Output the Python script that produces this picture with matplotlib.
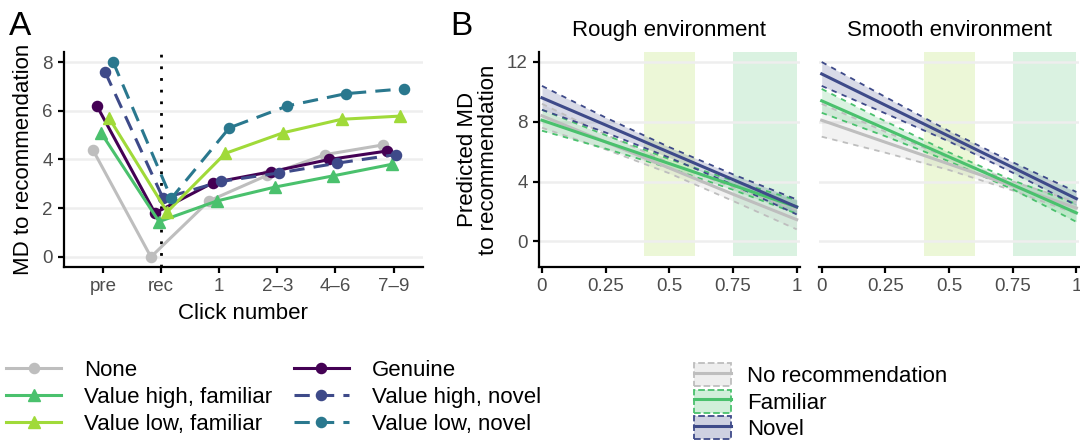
import numpy as np
import matplotlib.pyplot as plt
from matplotlib.lines import Line2D
from matplotlib.patches import Patch

plt.rcParams['font.family'] = ['Liberation Sans', 'DejaVu Sans']

# ---- panel A: observed mean distance per click ----
clicks = ['pre', 'rec', '1', '2–3', '4–6', '7–9']
none_md = [4.4, 0.0, 2.3, 3.35, 4.2, 4.6]
genuine_md = [6.2, 1.8, 3.05, 3.5, 4.0, 4.35]
high_fam_md = [5.1, 1.45, 2.3, 2.87, 3.33, 3.8]
high_nov_md = [7.6, 2.4, 3.1, 3.45, 3.85, 4.2]
low_fam_md = [5.7, 1.85, 4.25, 5.1, 5.65, 5.78]
low_nov_md = [8.0, 2.4, 5.3, 6.2, 6.7, 6.9]

# ---- panel B: model predictions (mean and CI half width) ----
x_pred = [0, 0.25, 0.5, 0.75, 1]
rough_none = [8.4, 6.65, 4.9, 3.15, 1.45]
rough_none_ci = [0.8, 0.5, 0.35, 0.45, 0.65]
rough_fam = [8.1, 6.65, 5.2, 3.75, 2.3]
rough_fam_ci = [0.7, 0.45, 0.3, 0.3, 0.45]
rough_nov = [9.6, 7.78, 5.95, 4.13, 2.3]
rough_nov_ci = [0.8, 0.5, 0.35, 0.35, 0.5]
smooth_none = [8.1, 6.63, 5.17, 3.7, 2.23]
smooth_none_ci = [1.1, 0.7, 0.4, 0.3, 0.4]
smooth_fam = [9.4, 7.53, 5.65, 3.78, 1.9]
smooth_fam_ci = [0.8, 0.5, 0.3, 0.3, 0.6]
smooth_nov = [11.2, 9.11, 7.03, 4.94, 2.85]
smooth_nov_ci = [0.8, 0.55, 0.35, 0.35, 0.45]

C_NONE = '#bebebe'
C_GEN = '#440154'
C_HFAM = '#4ac16d'
C_LFAM = '#a0da39'
C_HNOV = '#3e4a89'
C_LNOV = '#2a788e'
TICK_C = '#4d4d4d'
GRID_C = '#eeeeee'


def style_axis(ax, left=True):
    for s in ['top', 'right']:
        ax.spines[s].set_visible(False)
    ax.spines['bottom'].set_linewidth(1.6)
    ax.spines['left'].set_linewidth(1.6)
    if not left:
        ax.spines['left'].set_visible(False)
    ax.tick_params(axis='both', labelsize=13.5, labelcolor=TICK_C, length=4,
                   width=1.6, color='black', pad=4)
    if not left:
        ax.tick_params(axis='y', left=False, labelleft=False)
    ax.yaxis.grid(True, color=GRID_C, lw=1.8)
    ax.set_axisbelow(True)


fig = plt.figure(figsize=(10.8, 4.43), dpi=100)

# ---------------- Panel A ----------------
axA = fig.add_axes([0.0593, 0.398, 0.332, 0.484])
style_axis(axA)
xpos = np.arange(1, len(clicks) + 1)
series = [
    (none_md, C_NONE, 'o', '-', 'None'),
    (genuine_md, C_GEN, 'o', '-', 'Genuine'),
    (high_fam_md, C_HFAM, '^', '-', 'Value high, familiar'),
    (high_nov_md, C_HNOV, 'o', '--', 'Value high, novel'),
    (low_fam_md, C_LFAM, '^', '-', 'Value low, familiar'),
    (low_nov_md, C_LNOV, 'o', '--', 'Value low, novel'),
]
dodge = 0.07
axA.axvline(2, color='black', ls=(0, (1, 3.2)), lw=2, zorder=1)
handles = {}
for i, (vals, col, mk, ls, lab) in enumerate(series):
    xs = xpos + (i - 2.5) * dodge
    kw = dict(color=col, lw=2.2, marker=mk, markersize=8 if mk == '^' else 7.3, zorder=3)
    if ls == '--':
        line, = axA.plot(xs, vals, dashes=(5, 3), **kw)
    else:
        line, = axA.plot(xs, vals, **kw)
    handles[lab] = line
axA.set_xlim(0.33, 6.5)
axA.set_ylim(-0.4, 8.4)
axA.set_yticks([0, 2, 4, 6, 8])
axA.set_xticks(xpos)
axA.set_xticklabels(clicks)
axA.set_xlabel('Click number', fontsize=16, labelpad=6)
axA.set_ylabel('MD to recommendation', fontsize=16, labelpad=6)
fig.text(0.008, 0.975, 'A', fontsize=24, va='top', ha='left')

order = ['None', 'Value high, familiar', 'Value low, familiar',
         'Genuine', 'Value high, novel', 'Value low, novel']
fig.legend([handles[k] for k in order], order, ncol=2, loc='upper left',
           bbox_to_anchor=(0.006, 0.188), frameon=False, fontsize=16,
           handlelength=2.45, handletextpad=1.05, columnspacing=0.98,
           labelspacing=0.27, borderpad=0, borderaxespad=0)

# ---------------- Panel B ----------------
ylo, yhi = -1.7, 12.65
panels = [
    ('Rough environment', [(rough_none, rough_none_ci, C_NONE),
                           (rough_fam, rough_fam_ci, C_HFAM),
                           (rough_nov, rough_nov_ci, C_HNOV)]),
    ('Smooth environment', [(smooth_none, smooth_none_ci, C_NONE),
                            (smooth_fam, smooth_fam_ci, C_HFAM),
                            (smooth_nov, smooth_nov_ci, C_HNOV)]),
]
lefts = [0.499, 0.758]
for k, (title, lines) in enumerate(panels):
    ax = fig.add_axes([lefts[k], 0.398, 0.2415, 0.484])
    style_axis(ax, left=(k == 0))
    frac = (-1 - ylo) / (yhi - ylo)
    ax.axvspan(0.4, 0.6, ymin=frac, ymax=1, color=C_LFAM, alpha=0.2, lw=0, zorder=0.5)
    ax.axvspan(0.75, 1.0, ymin=frac, ymax=1, color=C_HFAM, alpha=0.2, lw=0, zorder=0.5)
    for mean, ci, col in lines:
        m = np.array(mean)
        h = np.array(ci)
        ax.fill_between(x_pred, m - h, m + h, color=col, alpha=0.2, lw=0, zorder=2)
        ax.plot(x_pred, m - h, color=col, lw=1.3, dashes=(3, 3), zorder=3)
        ax.plot(x_pred, m + h, color=col, lw=1.3, dashes=(3, 3), zorder=3)
        ax.plot(x_pred, m, color=col, lw=2.2, zorder=4)
    ax.set_xlim(-0.012, 1.012)
    ax.set_ylim(ylo, yhi)
    ax.set_yticks([0, 4, 8, 12])
    ax.set_xticks([0, 0.25, 0.5, 0.75, 1])
    ax.set_xticklabels(['0', '0.25', '0.5', '0.75', '1'])
    ax.set_title(title, fontsize=16, pad=12)
    if k == 0:
        ax.set_ylabel('Predicted MD\nto recommendation', fontsize=16, labelpad=6,
                      linespacing=0.95)
fig.text(0.417, 0.975, 'B', fontsize=24, va='top', ha='left')

leg_labels = ['No recommendation', 'Familiar', 'Novel']
leg_cols = [C_NONE, C_HFAM, C_HNOV]
hb = []
for col in leg_cols:
    face = list(plt.matplotlib.colors.to_rgba(col))
    face[3] = 0.25
    p = Patch(facecolor=face, edgecolor=col, linestyle='--', lw=1.3)
    l = Line2D([], [], color=col, lw=2.2)
    hb.append((p, l))
fig.legend(hb, leg_labels, loc='upper left', bbox_to_anchor=(0.643, 0.18),
           frameon=False, fontsize=16, handlelength=1.65, handleheight=1.22,
           handletextpad=0.7, labelspacing=0.11, borderpad=0, borderaxespad=0)

fig.savefig('out.png', dpi=100)
